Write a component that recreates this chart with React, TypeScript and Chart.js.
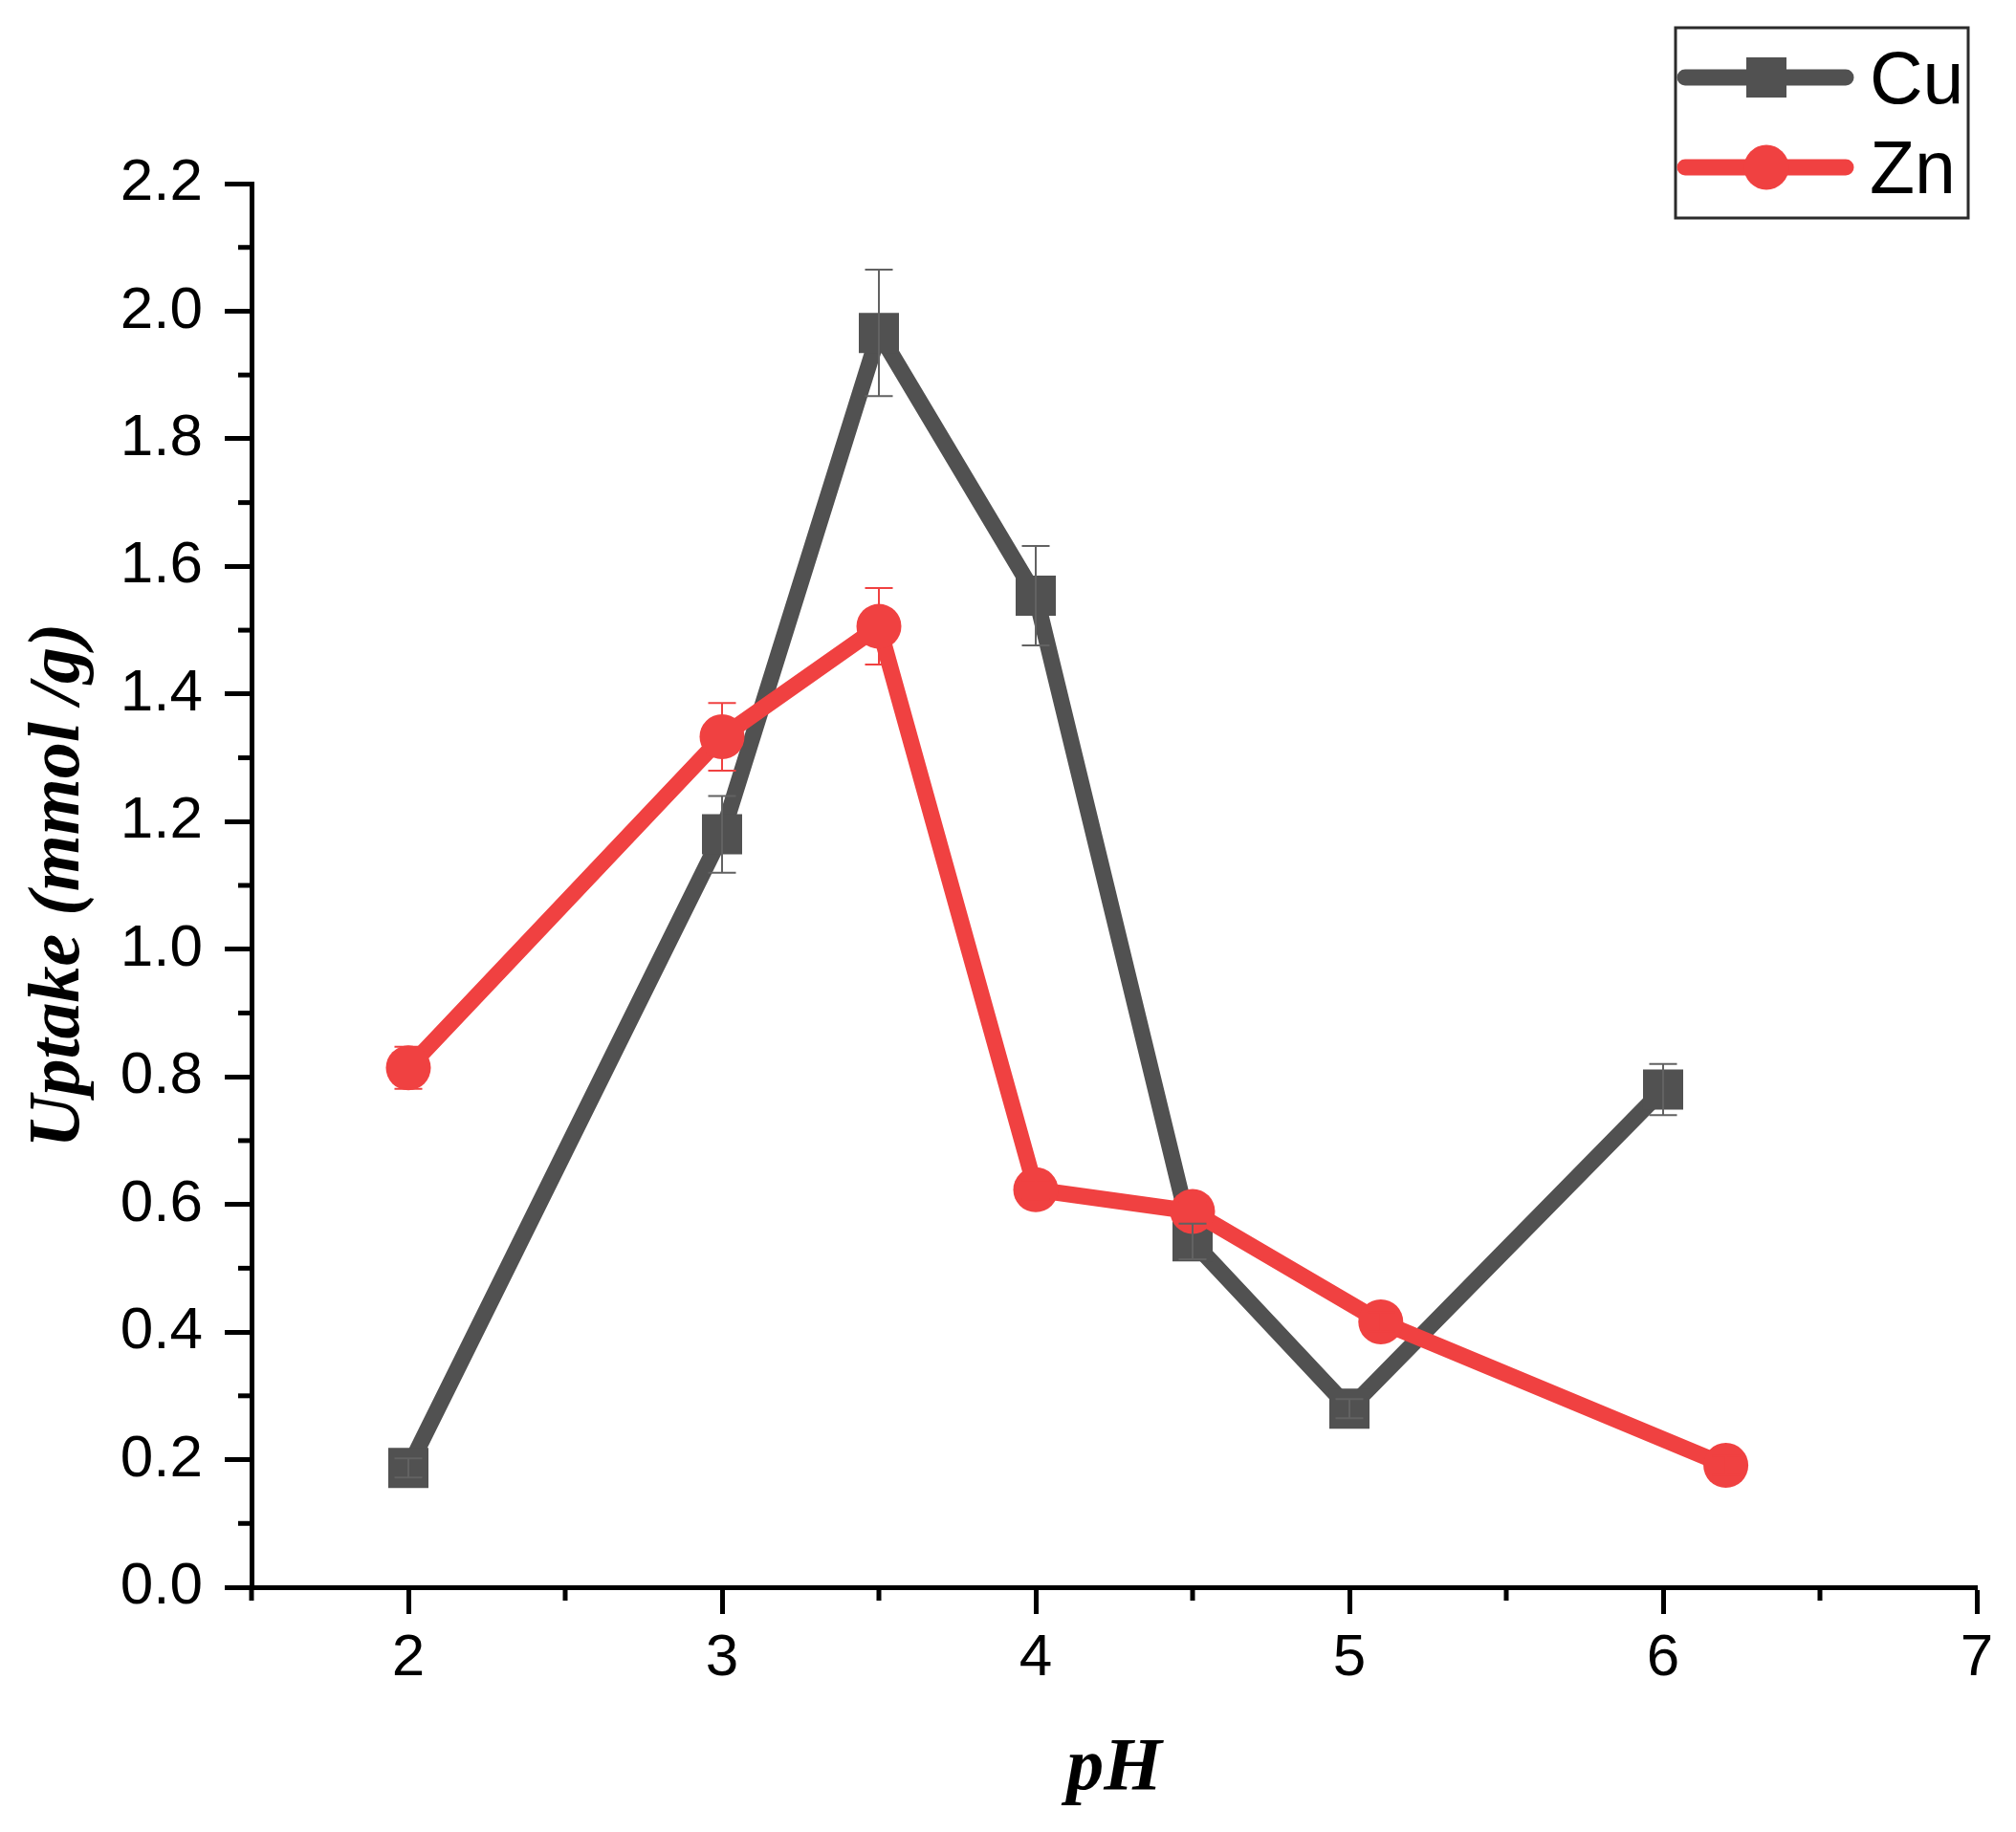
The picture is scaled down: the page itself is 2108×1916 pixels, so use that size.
import { useEffect, useRef } from "react";
import Chart from "chart.js/auto";

// pH values and uptake (mmol/g)
const CU_PH = [2, 3, 3.5, 4, 4.5, 5, 6];
const CU_UPTAKE = [0.187, 1.18, 1.966, 1.554, 0.542, 0.28, 0.78];
const CU_ERR = [0.015, 0.06, 0.099, 0.078, 0.028, 0.015, 0.04];

const ZN_PH = [2, 3, 3.5, 4, 4.5, 5.1, 6.2];
const ZN_UPTAKE = [0.814, 1.333, 1.506, 0.623, 0.589, 0.416, 0.191];
const ZN_ERR = [0.033, 0.053, 0.06, 0.015, 0.015, 0.015, 0.015];

const X_TICKS = [2, 3, 4, 5, 6, 7];
const X_MINOR = [1.5, 2.5, 3.5, 4.5, 5.5, 6.5];
const Y_TICKS = [0, 0.2, 0.4, 0.6, 0.8, 1.0, 1.2, 1.4, 1.6, 1.8, 2.0, 2.2];
const Y_MINOR = [0.1, 0.3, 0.5, 0.7, 0.9, 1.1, 1.3, 1.5, 1.7, 1.9, 2.1];

const X_TITLE = "pH";
const Y_TITLE = "Uptake (mmol /g)";

const CU_COLOR = "#515151";
const ZN_COLOR = "#F04141";
const ERRORS = [CU_ERR, ZN_ERR];
const ERR_COLORS = ["#626262", ZN_COLOR];

const minorTicks = {
  id: "minorTicks",
  afterDraw(chart: any) {
    const { ctx, chartArea, scales } = chart;
    ctx.save();
    ctx.strokeStyle = "#000";
    ctx.lineWidth = 5;
    X_MINOR.forEach((v) => {
      const px = scales.x.getPixelForValue(v);
      ctx.beginPath();
      ctx.moveTo(px, chartArea.bottom);
      ctx.lineTo(px, chartArea.bottom + 14);
      ctx.stroke();
    });
    Y_MINOR.forEach((v) => {
      const py = scales.y.getPixelForValue(v);
      ctx.beginPath();
      ctx.moveTo(chartArea.left, py);
      ctx.lineTo(chartArea.left - 14, py);
      ctx.stroke();
    });
    ctx.restore();
  },
};

const errorBars = {
  id: "errorBars",
  afterDatasetsDraw(chart: any) {
    const { ctx, scales } = chart;
    ctx.save();
    ctx.lineWidth = 2;
    chart.data.datasets.forEach((ds: any, i: number) => {
      const meta = chart.getDatasetMeta(i);
      ctx.strokeStyle = ERR_COLORS[i];
      ds.data.forEach((p: any, j: number) => {
        const err = ERRORS[i][j];
        const px = meta.data[j].x;
        const top = scales.y.getPixelForValue(p.y + err);
        const bot = scales.y.getPixelForValue(p.y - err);
        ctx.beginPath();
        ctx.moveTo(px, top);
        ctx.lineTo(px, bot);
        ctx.moveTo(px - 14.5, top);
        ctx.lineTo(px + 14.5, top);
        ctx.moveTo(px - 14.5, bot);
        ctx.lineTo(px + 14.5, bot);
        ctx.stroke();
      });
    });
    ctx.restore();
  },
};

const boxLegend = {
  id: "boxLegend",
  afterDraw(chart: any) {
    const { ctx } = chart;
    ctx.save();
    ctx.strokeStyle = "#2b2b2b";
    ctx.lineWidth = 3;
    ctx.strokeRect(1752, 29, 306, 199);
    chart.data.datasets.forEach((ds: any, i: number) => {
      const y = 81 + i * 94;
      ctx.strokeStyle = ds.borderColor;
      ctx.lineWidth = ds.borderWidth;
      ctx.lineCap = "round";
      ctx.beginPath();
      ctx.moveTo(1762, y);
      ctx.lineTo(1930, y);
      ctx.stroke();
      ctx.fillStyle = ds.backgroundColor;
      if (ds.pointStyle === "rect") {
        const s = ds.pointRadius * Math.SQRT1_2;
        ctx.fillRect(1847 - s, y - s, 2 * s, 2 * s);
      } else {
        ctx.beginPath();
        ctx.arc(1847, y, ds.pointRadius, 0, Math.PI * 2);
        ctx.fill();
      }
      ctx.fillStyle = "#000";
      ctx.font = '77px "Liberation Sans", Arial, sans-serif';
      ctx.textBaseline = "alphabetic";
      ctx.textAlign = "left";
      ctx.fillText(ds.label, 1955, y + 27);
    });
    ctx.restore();
  },
};

const UptakeChart = () => {
  const canvasRef = useRef<HTMLCanvasElement | null>(null);

  useEffect(() => {
    if (!canvasRef.current) return;

    const tickFont = { family: '"Liberation Sans", Arial, sans-serif', size: 62 };
    const titleFamily = '"Liberation Serif", "Times New Roman", serif';

    const chart = new Chart(canvasRef.current, {
      type: "line",
      data: {
        datasets: [
          {
            label: "Cu",
            data: CU_PH.map((x, i) => ({ x, y: CU_UPTAKE[i] })),
            borderColor: CU_COLOR,
            backgroundColor: CU_COLOR,
            borderWidth: 17,
            borderJoinStyle: "round",
            borderCapStyle: "round",
            pointStyle: "rect",
            pointRadius: 29.7,
            pointBorderWidth: 0,
            order: 2,
          },
          {
            label: "Zn",
            data: ZN_PH.map((x, i) => ({ x, y: ZN_UPTAKE[i] })),
            borderColor: ZN_COLOR,
            backgroundColor: ZN_COLOR,
            borderWidth: 17,
            borderJoinStyle: "round",
            borderCapStyle: "round",
            pointStyle: "circle",
            pointRadius: 23.5,
            pointBorderWidth: 0,
            order: 1,
          },
        ],
      },
      options: {
        animation: false,
        responsive: true,
        maintainAspectRatio: false,
        devicePixelRatio: 1,
        layout: { padding: { top: 192, right: 41, left: 0, bottom: 0 } },
        plugins: {
          legend: { display: false },
          tooltip: { enabled: false },
        },
        scales: {
          x: {
            type: "linear",
            min: 1.5,
            max: 7,
            afterBuildTicks: (s: any) => {
              s.ticks = X_TICKS.map((value) => ({ value }));
            },
            afterFit: (s: any) => {
              s.height = 256;
            },
            ticks: {
              font: tickFont,
              color: "#000",
              padding: 10,
              maxRotation: 0,
              callback: (v: any) => String(v),
            },
            grid: {
              drawOnChartArea: false,
              drawTicks: true,
              tickLength: 28,
              tickWidth: 5,
              tickColor: "#000",
            },
            border: { display: true, color: "#000", width: 5 },
            title: {
              display: true,
              text: X_TITLE,
              color: "#000",
              font: { family: titleFamily, size: 78, weight: "bold", style: "italic" },
              padding: { top: 0, bottom: 18 },
            },
          },
          y: {
            type: "linear",
            min: 0,
            max: 2.2,
            afterBuildTicks: (s: any) => {
              s.ticks = Y_TICKS.map((value) => ({ value }));
            },
            afterFit: (s: any) => {
              s.width = 263;
            },
            ticks: {
              font: tickFont,
              color: "#000",
              padding: 23,
              callback: (v: any) => Number(v).toFixed(1),
            },
            grid: {
              drawOnChartArea: false,
              drawTicks: true,
              tickLength: 28,
              tickWidth: 5,
              tickColor: "#000",
            },
            border: { display: true, color: "#000", width: 5 },
            title: {
              display: true,
              text: Y_TITLE,
              color: "#000",
              font: { family: titleFamily, size: 76, weight: "bold", style: "italic" },
              padding: { top: 17, bottom: 0 },
            },
          },
        },
      },
      plugins: [minorTicks, errorBars, boxLegend],
    });

    return () => {
      chart.destroy();
    };
  }, []);

  return (
    <div style={{ position: "absolute", top: 0, left: 0, width: 2108, height: 1916, background: "#fff" }}>
      <canvas ref={canvasRef} />
    </div>
  );
};

export default function App() {
  return <UptakeChart />;
}
